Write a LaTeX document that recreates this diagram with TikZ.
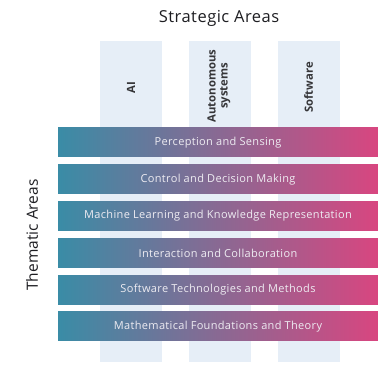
\documentclass[tikz,border=0pt]{standalone}
\usepackage{fontspec}
\setmainfont{Open Sans}
\newfontfamily\barfont[LetterSpace=3]{Open Sans}
\newfontfamily\titlefont[LetterSpace=3]{Open Sans}
\definecolor{colfill}{RGB}{230,238,247}
\definecolor{barL}{RGB}{58,140,166}
\definecolor{barM}{RGB}{124,106,150}
\definecolor{barR}{RGB}{216,70,128}
\definecolor{bartext}{RGB}{238,236,242}
\definecolor{labtext}{RGB}{30,30,34}
\begin{document}
\begin{tikzpicture}[x=1pt,y=-1pt,
  column/.style={fill=colfill, draw=none, minimum width=62pt, minimum height=321pt, inner sep=0pt},
  collabel/.style={rotate=90, text=labtext!90!white, font=\fontsize{11.3}{12}\selectfont\bfseries, align=center, inner sep=0pt},
  bar/.style={draw=none, minimum width=320pt, minimum height=29pt, inner sep=0pt,
    left color=barL, middle color=barM, right color=barR, text=bartext,
    font=\barfont\fontsize{11}{13}\selectfont},
  title/.style={text=labtext, font=\titlefont\fontsize{16.5}{19}\selectfont, inner sep=0pt}]
\useasboundingbox (0,0) rectangle (378,374);
\fill[white] (0,0) rectangle (378,374);
% columns
\node[column] (c1) at (131,201.5) {};
\node[column] (c2) at (219.5,201.5) {};
\node[column] (c3) at (308.5,201.5) {};
% column labels
\node[collabel] (l1) at (131,87.5) {AI};
\node[collabel] (l2) at (219,86) {Autonomous\\systems};
\node[collabel] (l3) at (308.5,87.5) {Software};
% titles
\node[title] (st) at (219,18) {Strategic Areas};
\node[text=labtext, font=\fontsize{15.5}{18}\selectfont, inner sep=0pt, rotate=90] (ta) at (32,235) {Thematic Areas};
% bars
\node[bar] (b1) at (218,142.5) {Perception and Sensing};
\node[bar] (b2) at (218,179.3) {Control and Decision Making};
\node[bar] (b3) at (218,216.1) {Machine Learning and Knowledge Representation};
\node[bar] (b4) at (218,252.9) {Interaction and Collaboration};
\node[bar] (b5) at (218,289.7) {Software Technologies and Methods};
\node[bar] (b6) at (218,326.5) {Mathematical Foundations and Theory};
\end{tikzpicture}
\end{document}
